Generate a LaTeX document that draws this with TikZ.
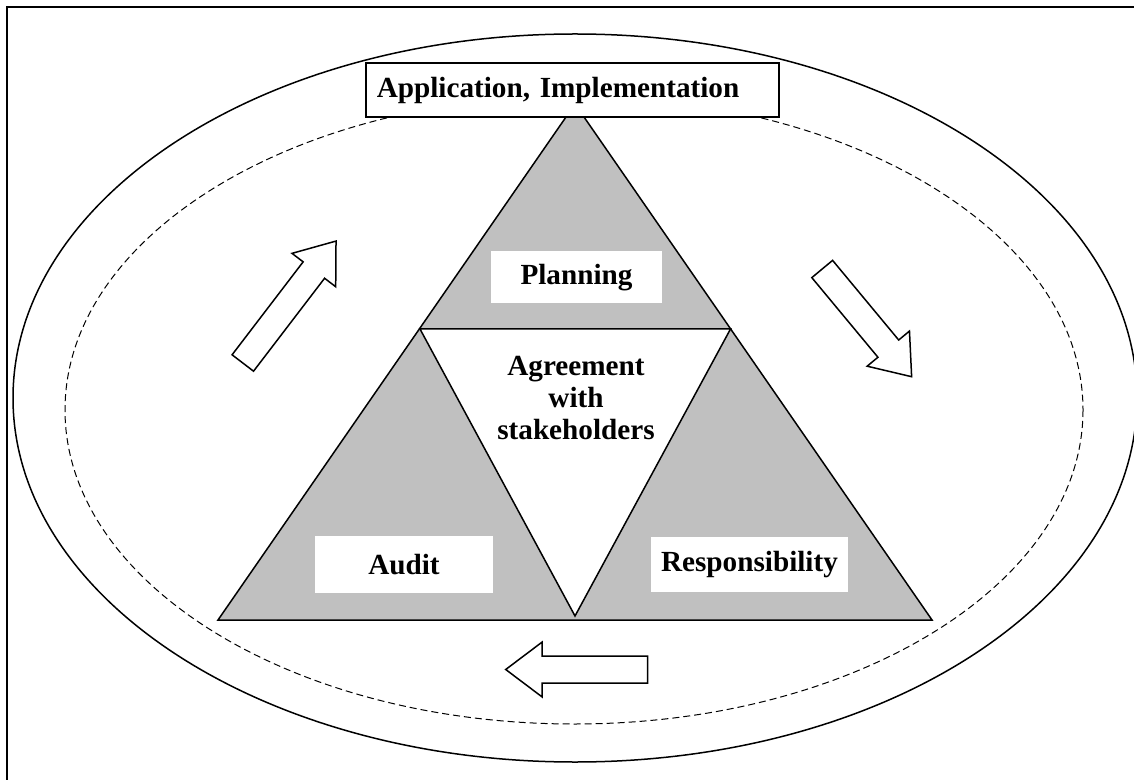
\documentclass[tikz,border=0pt]{standalone}
\usepackage{fontspec}
\setmainfont{Liberation Serif}
\usetikzlibrary{positioning}

\tikzset{pics/BlockArrow/.style={code={
  \draw[fill=white] (0,-13.5) -- (#1-36.5,-13.5) -- (#1-36.5,-27.5) -- (#1,0)
    -- (#1-36.5,27.5) -- (#1-36.5,13.5) -- (0,13.5) -- cycle;}}}

\begin{document}
\begin{tikzpicture}[x=0.5pt,y=-0.5pt,line width=0.75pt,
    font=\fontsize{14.6}{16}\selectfont\bfseries]
		\tikzstyle{TitleStyle} = [draw, fill=white, anchor=west, align=left, text width=195.5pt, inner xsep=5.5pt, minimum height=27pt]
		\tikzstyle{LabelStyle} = [fill=white, inner sep=0pt]
		\definecolor{ShadeGray}{RGB}{192,192,192}

		\useasboundingbox (0,0) rectangle (1134,780);
		\draw[line width=1pt] (7,780) -- (7,7) -- (1134,7);

		\draw (575,398) ellipse [x radius=562, y radius=364];
		\draw[line width=0.5pt, dash pattern=on 3.5pt off 2pt] (574,410) ellipse [x radius=509, y radius=314];

		\coordinate (Top) at (575,104); \coordinate (Left) at (218,620); \coordinate (Right) at (932,620);
		\coordinate (InnerLeft) at (420,329); \coordinate (InnerRight) at (730.5,329); \coordinate (InnerBottom) at (575,616);
		\draw[fill=ShadeGray] (Top) -- (Right) -- (Left) -- cycle;
		\draw[fill=white] (InnerLeft) -- (InnerRight) -- (InnerBottom) -- cycle;

		\node[TitleStyle] (Application) at (365,90) {Application, Implementation};
		\node[LabelStyle, minimum width=85.5pt, minimum height=26pt] (Planning) at (576.5,277.5) {Planning};
		\node[LabelStyle, minimum width=89pt, minimum height=28.5pt] (Audit) at (404,564.5) {Audit};
		\node[LabelStyle, minimum width=98.5pt, minimum height=27.5pt] (Responsibility) at (749.5,564.5) {Responsibility};
		\node[align=center] (Agreement) at (576,398) {Agreement\\with\\stakeholders};

		\pic[rotate=52.6] at (242.8,363) {BlockArrow=153.5};
		\pic[rotate=-50.3] at (822.2,269) {BlockArrow=140};
		\pic[rotate=180] at (647.7,669.5) {BlockArrow=142};
	\end{tikzpicture}
\end{document}
